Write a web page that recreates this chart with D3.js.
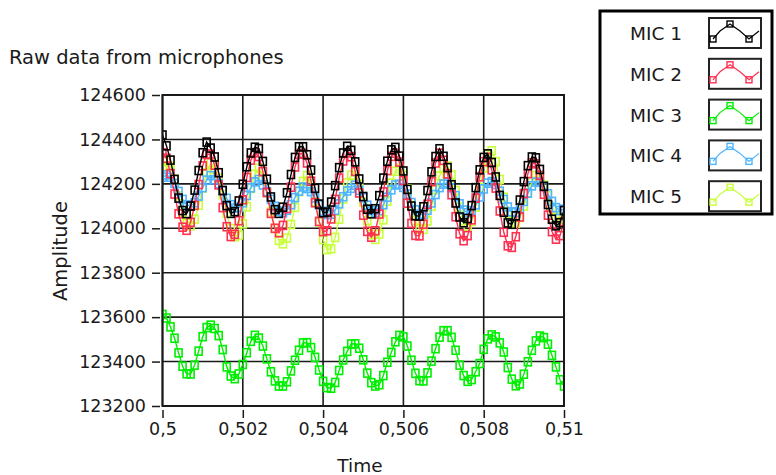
<!DOCTYPE html>
<html>
<head>
<meta charset="utf-8">
<script src="https://cdn.jsdelivr.net/npm/d3@7"></script>
<style>
  body { margin: 0; background: #fff; }
  text { font-family: "DejaVu Sans", sans-serif; fill: #1a1a1a; }
</style>
</head>
<body>
<div id="chart"></div>
<script>
// waveform start time and sample step (s)
var t0 = 0.5, dt = 0.0001;

var mic1 = [
  124420,124371,124307,124220,124136,124080,124066,124100,124172,124260,
  124340,124388,124361,124321,124250,124170,124102,124067,124075,124123,
  124198,124277,124339,124365,124359,124301,124221,124141,124084,124067,
  124095,124160,124242,124319,124367,124367,124331,124262,124180,124109,
  124070,124073,124118,124192,124273,124339,124369,124351,124299,124222,
  124143,124086,124065,124088,124147,124226,124302,124353,124364,124325,
  124258,124175,124100,124056,124055,124097,124170,124254,124323,124358,
  124324,124273,124196,124114,124051,124025,124044,124102,124183,124263,
  124319,124335,124296,124231,124148,124072,124024,124018,124056,124127,
  124210,124282,124321,124317,124265,124189,124107,124041,124011,124025,
  124080];
var mic2 = [
  124340,124315,124246,124154,124065,124005,123991,124027,124103,124197,
  124281,124332,124334,124284,124195,124093,124007,123963,123973,124034,
  124128,124229,124307,124340,124323,124255,124161,124067,124000,123980,
  124013,124089,124185,124276,124333,124337,124294,124212,124115,124031,
  123985,123989,124042,124130,124226,124303,124339,124322,124256,124159,
  124059,123986,123960,123989,124064,124164,124260,124324,124338,124298,
  124215,124113,124022,123968,123966,124018,124108,124210,124294,124338,
  124306,124245,124151,124052,123975,123944,123967,124038,124136,124232,
  124300,124319,124263,124181,124078,123982,123921,123914,123962,124051,
  124156,124246,124295,124290,124238,124153,124059,123985,123951,123967,
  124029];
var mic3 = [
  123612,123596,123556,123505,123439,123379,123345,123344,123384,123447,
  123512,123553,123564,123549,123517,123454,123376,123335,123323,123344,
  123387,123440,123491,123518,123506,123470,123412,123354,123313,123290,
  123290,123309,123358,123406,123451,123484,123485,123463,123419,123362,
  123311,123283,123280,123306,123360,123407,123446,123479,123480,123460,
  123408,123348,123305,123290,123296,123337,123397,123441,123489,123518,
  123511,123470,123406,123347,123314,123313,123349,123402,123458,123510,
  123539,123539,123509,123451,123384,123337,123311,123319,123354,123391,
  123455,123502,123520,123511,123484,123443,123373,123321,123291,123299,
  123343,123399,123451,123493,123515,123508,123478,123428,123376,123318,
  123290];
var mic4 = [
  124230,124240,124230,124202,124166,124130,124106,124100,124115,124145,
  124183,124217,124237,124218,124201,124170,124135,124106,124091,124094,
  124115,124148,124182,124209,124220,124195,124165,124130,124099,124077,
  124070,124081,124106,124138,124167,124186,124179,124165,124137,124105,
  124077,124062,124063,124081,124110,124142,124168,124180,124194,124171,
  124138,124104,124079,124070,124080,124106,124140,124173,124195,124199,
  124184,124154,124116,124083,124063,124062,124081,124114,124152,124183,
  124199,124205,124182,124147,124110,124082,124070,124079,124105,124141,
  124177,124203,124210,124197,124167,124130,124096,124074,124071,124089,
  124121,124158,124191,124208,124207,124187,124155,124121,124093,124080,
  124086];
var mic5 = [
  124279,124300,124279,124222,124146,124072,124023,124011,124041,124104,
  124181,124251,124294,124265,124224,124151,124068,123999,123962,123970,
  124020,124097,124179,124243,124270,124225,124160,124074,123999,123946,
  123930,123956,124017,124094,124165,124211,124237,124196,124119,124028,
  123949,123904,123908,123959,124041,124132,124205,124239,124255,124199,
  124118,124034,123972,123950,123974,124038,124122,124203,124257,124269,
  124239,124178,124103,124035,123996,123995,124033,124099,124174,124236,
  124268,124280,124240,124170,124095,124035,124010,124031,124095,124183,
  124271,124332,124349,124300,124220,124140,124070,124030,124022,124049,
  124100,124159,124210,124237,124225,124195,124146,124092,124050,124030,
  124040];

var micNames = ["MIC 1", "MIC 2", "MIC 3", "MIC 4", "MIC 5"];
var micColors = ["#000000", "#ff3050", "#00ee00", "#50b4ff", "#c8ff3c"];
var xTicks = [0.5, 0.502, 0.504, 0.506, 0.508, 0.51];
var yTicks = [123200, 123400, 123600, 123800, 124000, 124200, 124400, 124600];

(function(){
    var width = 776, height = 475;
    var svg = d3.select('#chart')
    .append("svg")
    .attr("width", width)
    .attr("height", height);

    var series = [mic1, mic2, mic3, mic4, mic5].map(function(vals, k){
        return {
            name: micNames[k],
            color: micColors[k],
            points: vals.map(function(v, i){ return {t: t0 + i * dt, v: v}; })
        };
    });

    var x = d3.scaleLinear().domain([0.5, 0.51]).range([162.5, 564]);
    var y = d3.scaleLinear().domain([123200, 124600]).range([406, 95]);

    var commaFmt = d3.formatLocale({decimal: ",", thousands: "", grouping: [3], currency: ["", ""]}).format(".3~f");

    // title
    svg.append("text")
    .attr("x", 9).attr("y", 64)
    .style("font-size", "19.5px")
    .text("Raw data from microphones");

    svg.append("defs").append("clipPath").attr("id", "plotclip")
    .append("rect")
    .attr("x", x(0.5)).attr("y", y(124600))
    .attr("width", x(0.51) - x(0.5)).attr("height", y(123200) - y(124600));

    // grid
    var grid = svg.append("g");
    grid.selectAll(".vg").data(xTicks).enter().append("line")
    .attr("x1", function(d){ return x(d); }).attr("x2", function(d){ return x(d); })
    .attr("y1", y(124600)).attr("y2", y(123200))
    .attr("stroke", "#1a1a1a").attr("stroke-width", 1.6);
    grid.selectAll(".hg").data(yTicks).enter().append("line")
    .attr("x1", x(0.5)).attr("x2", x(0.51))
    .attr("y1", function(d){ return y(d); }).attr("y2", function(d){ return y(d); })
    .attr("stroke", "#1a1a1a").attr("stroke-width", 1.6);

    // plots, MIC 1 on top
    var line = d3.line()
    .x(function(d){ return x(d.t); })
    .y(function(d){ return y(d.v); });

    var plots = svg.append("g").attr("clip-path", "url(#plotclip)")
    .selectAll(".plot")
    .data(series.slice().reverse())
    .enter().append("g");

    plots.append("path")
    .attr("d", function(d){ return line(d.points); })
    .attr("fill", "none")
    .attr("stroke", function(d){ return d.color; })
    .attr("stroke-width", 1.4);

    plots.each(function(s){
        d3.select(this).selectAll("rect")
        .data(s.points)
        .enter().append("rect")
        .attr("x", function(d){ return x(d.t) - 3.5; })
        .attr("y", function(d){ return y(d.v) - 4; })
        .attr("width", 7).attr("height", 8)
        .attr("fill", "none")
        .attr("stroke", s.color)
        .attr("stroke-width", 1.6);
    });

    // frame
    svg.append("rect")
    .attr("x", x(0.5)).attr("y", y(124600))
    .attr("width", x(0.51) - x(0.5)).attr("height", y(123200) - y(124600))
    .attr("fill", "none").attr("stroke", "#1a1a1a").attr("stroke-width", 2);

    // axes
    var yAxis = svg.append("g")
    .attr("transform", "translate(160,0)")
    .call(d3.axisLeft(y).tickValues(yTicks).tickSize(8).tickPadding(6).tickFormat(d3.format("d")));
    var xAxis = svg.append("g")
    .attr("transform", "translate(0,410)")
    .call(d3.axisBottom(x).tickValues(xTicks).tickSize(8).tickPadding(5).tickFormat(commaFmt));
    [yAxis, xAxis].forEach(function(a){
        a.select(".domain").remove();
        a.selectAll(".tick line").attr("stroke", "#1a1a1a").attr("stroke-width", 1.5);
        a.selectAll(".tick text")
        .style("font-family", "'DejaVu Sans', sans-serif")
        .style("font-size", "17.5px")
        .attr("fill", "#1a1a1a");
    });

    svg.append("text")
    .attr("transform", "translate(67,251) rotate(-90)")
    .attr("text-anchor", "middle")
    .style("font-size", "19.5px")
    .text("Amplitude");

    svg.append("text")
    .attr("x", 360).attr("y", 472)
    .attr("text-anchor", "middle")
    .style("font-size", "18.5px")
    .text("Time");

    // legend
    var legend = svg.append("g");
    legend.append("rect")
    .attr("x", 600).attr("y", 11)
    .attr("width", 172).attr("height", 203)
    .attr("fill", "#fff").attr("stroke", "#000").attr("stroke-width", 3);

    var swatchPts = [[4, 21], [11, 13], [21, 6], [31, 13], [40, 21], [50, 13]];
    var markPts = [[4, 21], [21, 6], [40, 21]];

    var rows = legend.selectAll(".row")
    .data(series)
    .enter().append("g")
    .attr("transform", function(d, i){ return "translate(0," + (i * 40.8) + ")"; });

    rows.append("text")
    .attr("x", 630).attr("y", 40)
    .style("font-size", "18.5px")
    .text(function(d){ return d.name; });

    rows.append("rect")
    .attr("x", 709).attr("y", 18)
    .attr("width", 52).attr("height", 30)
    .attr("fill", "#fff").attr("stroke", "#222").attr("stroke-width", 2);

    rows.append("path")
    .attr("transform", "translate(709,18)")
    .attr("d", d3.line()(swatchPts))
    .attr("fill", "none")
    .attr("stroke", function(d){ return d.color; })
    .attr("stroke-width", 1.2);

    rows.each(function(s){
        d3.select(this).selectAll(".mk")
        .data(markPts)
        .enter().append("rect")
        .attr("x", function(p){ return 709 + p[0] - 3; })
        .attr("y", function(p){ return 18 + p[1] - 3; })
        .attr("width", 6).attr("height", 6)
        .attr("fill", "none")
        .attr("stroke", s.color)
        .attr("stroke-width", 1.4);
    });
})();
</script>
</body>
</html>
